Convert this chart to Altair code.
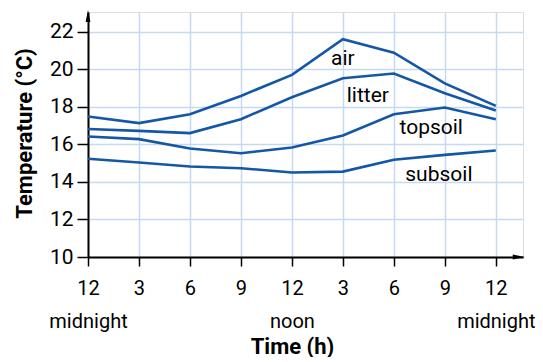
import altair as alt
import pandas as pd

hours = [0, 3, 6, 9, 12, 15, 18, 21, 24]
hour_labels = ["12", "3", "6", "9", "12", "3", "6", "9", "12"]
period_labels = ["midnight", "", "", "", "noon", "", "", "", "midnight"]
y_ticks = [10, 12, 14, 16, 18, 20, 22]

air = [17.48, 17.13, 17.6, 18.58, 19.7, 21.6, 20.88, 19.25, 18.05]
litter = [16.82, 16.72, 16.6, 17.34, 18.51, 19.52, 19.77, 18.72, 17.8]
topsoil = [16.42, 16.28, 15.78, 15.53, 15.83, 16.47, 17.6, 17.96, 17.34]
subsoil = [15.23, 15.03, 14.82, 14.73, 14.5, 14.55, 15.18, 15.44, 15.67]

series_names = ["air", "litter", "topsoil", "subsoil"]
label_x = [15.0, 16.47, 20.2, 20.65]
label_y = [20.55, 18.6, 16.85, 14.38]

X_DOMAIN = [0, 25.6]
Y_DOMAIN = [10, 23.05]
LINE = "#1457a6"
GRID = "#c6d9f1"
FONT = "Roboto"

rows = []
for name, vals in zip(series_names, [air, litter, topsoil, subsoil]):
    for h, v in zip(hours, vals):
        rows.append({"series": name, "hour": h, "temp": v})
df = pd.DataFrame(rows)

labels_df = pd.DataFrame({"name": series_names, "x": label_x, "y": label_y})

# multi-line label expression built from the label lists
parts = []
for h, a, b in zip(hours, hour_labels, period_labels):
    if b:
        parts.append(f"datum.value == {h} ? ['{a}', '{b}']")
    else:
        parts.append(f"datum.value == {h} ? '{a}'")
label_expr = " : ".join(parts) + " : ''"

xscale = alt.Scale(domain=X_DOMAIN, nice=False, zero=False)
yscale = alt.Scale(domain=Y_DOMAIN, nice=False, zero=False)

x_axis = alt.Axis(
    values=hours, labelExpr=label_expr, title="Time (h)",
    grid=True, gridColor=GRID, gridWidth=1.5,
    domainColor="black", domainWidth=2, tickColor="black", tickSize=9, tickWidth=1.5,
    labelFont=FONT, labelFontSize=20, labelColor="black", labelPadding=12,
    labelLineHeight=33, labelFlush=False, labelOverlap=False,
    titleFont=FONT, titleFontSize=22, titleFontWeight="bold", titleColor="black",
    titleX=204, titleY=89, titleBaseline="middle", titleAlign="center",
)
y_axis = alt.Axis(
    values=y_ticks, title="Temperature (°C)",
    grid=True, gridColor=GRID, gridWidth=1.5,
    domainColor="black", domainWidth=2, tickColor="black", tickSize=11, tickWidth=1.5,
    labelFont=FONT, labelFontSize=21, labelColor="black", labelPadding=4,
    titleFont=FONT, titleFontSize=22, titleFontWeight="bold", titleColor="black",
    titleX=-64, titleY=121, titleBaseline="middle", titleAlign="center", titleAngle=-90,
)

lines = alt.Chart(df).mark_line(color=LINE, strokeWidth=2.6, clip=False).encode(
    x=alt.X("hour:Q", scale=xscale, axis=x_axis),
    y=alt.Y("temp:Q", scale=yscale, axis=y_axis),
    detail="series:N",
)

texts = alt.Chart(labels_df).mark_text(
    font=FONT, fontSize=21, color="black", align="center", baseline="middle"
).encode(
    x=alt.X("x:Q", scale=xscale),
    y=alt.Y("y:Q", scale=yscale),
    text="name:N",
)

arrow_x_df = pd.DataFrame({"x": [25.35], "y": [10]})
arrow_y_df = pd.DataFrame({"x": [0], "y": [22.84]})

arrow_right = alt.Chart(arrow_x_df).mark_point(
    shape="M-1,-0.4 L1,0 L-1,0.4 Z", filled=True, color="black", size=144,
    opacity=1, clip=False, strokeWidth=0,
).encode(x=alt.X("x:Q", scale=xscale), y=alt.Y("y:Q", scale=yscale))

arrow_up = alt.Chart(arrow_y_df).mark_point(
    shape="M-0.4,1 L0,-1 L0.4,1 Z", filled=True, color="black", size=144,
    opacity=1, clip=False, strokeWidth=0,
).encode(x=alt.X("x:Q", scale=xscale), y=alt.Y("y:Q", scale=yscale))

chart = alt.layer(lines, texts, arrow_right, arrow_up).properties(
    width=435, height=245,
    autosize=alt.AutoSizeParams(type="none"),
    padding={"left": 80, "top": 4, "right": 12, "bottom": 100},
).configure_view(stroke=GRID, strokeWidth=1.5).configure(background="white")

chart.save("out.html", embed_options={"renderer": "svg", "actions": False})
